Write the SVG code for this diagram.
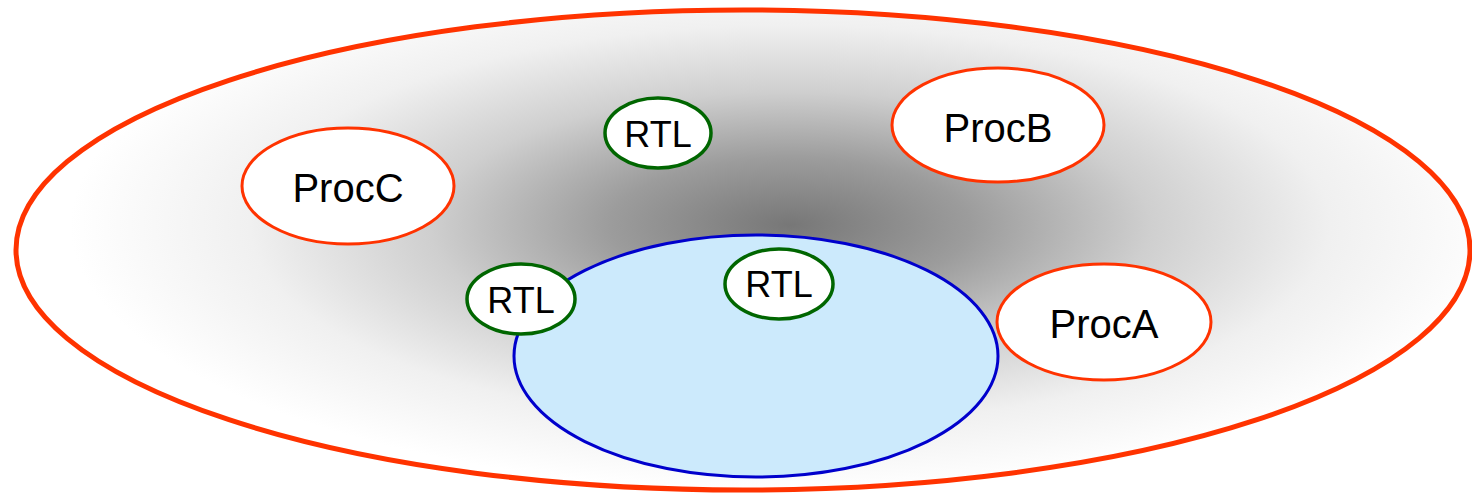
<svg xmlns="http://www.w3.org/2000/svg" width="1472" height="494" viewBox="0 0 1472 494">
  <defs>
    <radialGradient id="haze" gradientUnits="userSpaceOnUse" cx="790" cy="225" r="720" gradientTransform="translate(790 225) scale(1 0.37) translate(-790 -225)">
      <stop offset="0" stop-color="#777777"/>
      <stop offset="0.25" stop-color="#9c9c9c"/>
      <stop offset="0.5" stop-color="#cfcfcf"/>
      <stop offset="0.75" stop-color="#f0f0f0"/>
      <stop offset="1" stop-color="#ffffff"/>
    </radialGradient>
    <style>
      .proc { fill: #ffffff; stroke: #ff3300; stroke-width: 3; }
      .rtl { fill: #ffffff; stroke: #006600; stroke-width: 3.5; }
      .lbl { font-family: "Liberation Sans", Arial, sans-serif; fill: #000000; text-anchor: middle; }
      .big { font-size: 40px; }
      .small { font-size: 36px; }
    </style>
  </defs>

  <rect width="1472" height="494" fill="#ffffff"/>

  <!-- outer domain -->
  <g id="domain">
    <ellipse cx="743" cy="250" rx="727" ry="240" fill="url(#haze)" stroke="#ff3300" stroke-width="5"/>
  </g>

  <!-- inner region -->
  <g id="region">
    <ellipse cx="756" cy="356" rx="242" ry="121" fill="#cceafc" stroke="#0000cc" stroke-width="3"/>
  </g>

  <g id="connectors"></g>

  <g id="procC">
    <ellipse class="proc" cx="348" cy="186" rx="106" ry="58"/>
    <text class="lbl big" x="348" y="202">ProcC</text>
  </g>

  <g id="procB">
    <ellipse class="proc" cx="998" cy="125" rx="106" ry="57"/>
    <text class="lbl big" x="998" y="142">ProcB</text>
  </g>

  <g id="procA">
    <ellipse class="proc" cx="1104" cy="322" rx="107" ry="58"/>
    <text class="lbl big" x="1104" y="338">ProcA</text>
  </g>

  <g id="rtlTop">
    <ellipse class="rtl" cx="658" cy="133" rx="53" ry="35"/>
    <text class="lbl small" x="658" y="147">RTL</text>
  </g>

  <g id="rtlLeft">
    <ellipse class="rtl" cx="521" cy="299" rx="54" ry="35"/>
    <text class="lbl small" x="521" y="313">RTL</text>
  </g>

  <g id="rtlRight">
    <ellipse class="rtl" cx="779" cy="284" rx="54" ry="35"/>
    <text class="lbl small" x="779" y="297">RTL</text>
  </g>
</svg>
